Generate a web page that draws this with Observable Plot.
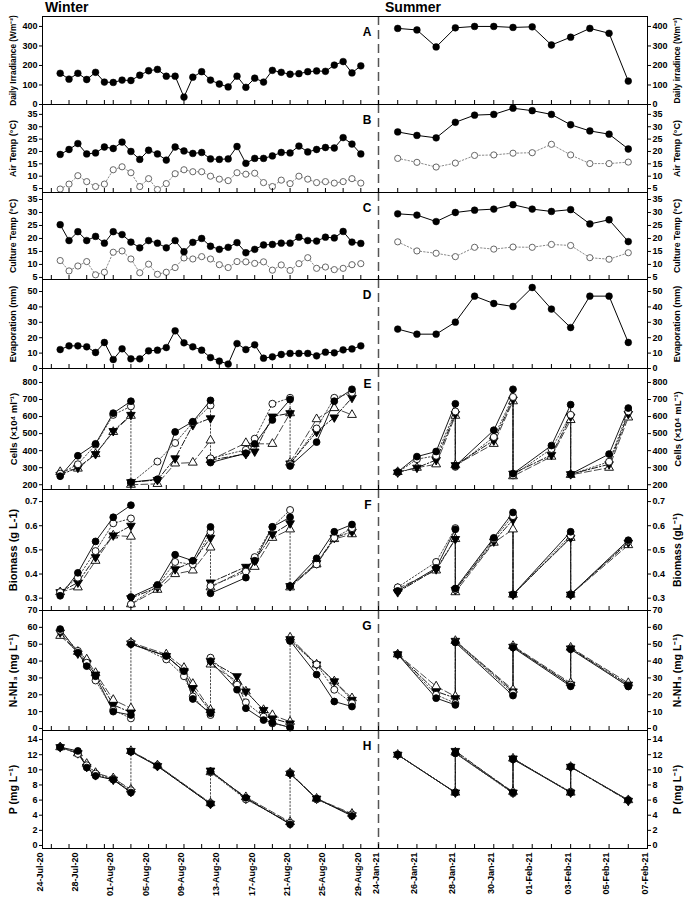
<!DOCTYPE html>
<html><head><meta charset="utf-8">
<script src="https://cdn.jsdelivr.net/npm/d3@7"></script>
<script src="https://cdn.jsdelivr.net/npm/@observablehq/plot@0.6"></script>
<style>
body{margin:0;background:#fff;font-family:"Liberation Sans",Arial,sans-serif;}
#wrap{position:relative;width:685px;height:898px;overflow:hidden;}
.panel{position:absolute;left:0;}
.panel svg{overflow:visible;}
.ttl{position:absolute;top:-1px;font-weight:bold;font-size:14px;font-family:"Liberation Sans",Arial,sans-serif;}
</style></head><body><div id="wrap"><div class="ttl" style="left:45px">Winter</div><div class="ttl" style="left:385px">Summer</div></div>
<script>
// ---------- DATA ----------
const winterDays = ["2020-07-26","2020-07-27","2020-07-28","2020-07-29","2020-07-30","2020-07-31","2020-08-01","2020-08-02","2020-08-03","2020-08-04","2020-08-05","2020-08-06","2020-08-07","2020-08-08","2020-08-09","2020-08-10","2020-08-11","2020-08-12","2020-08-13","2020-08-14","2020-08-15","2020-08-16","2020-08-17","2020-08-18","2020-08-19","2020-08-20","2020-08-21","2020-08-22","2020-08-23","2020-08-24","2020-08-25","2020-08-26","2020-08-27","2020-08-28","2020-08-29"];
const summerDays = ["2021-01-25","2021-01-26","2021-01-27","2021-01-28","2021-01-29","2021-01-30","2021-01-31","2021-02-01","2021-02-02","2021-02-03","2021-02-04","2021-02-05","2021-02-06"];

const irrW = [160,130,160,128,165,115,113,125,123,150,173,180,145,145,38,140,168,125,105,90,145,88,135,115,175,165,155,158,168,172,170,202,220,162,198];
const irrS = [390,382,295,393,400,400,395,398,305,345,390,365,120];

const airMaxW = [18.8,20.8,23.2,19,19.4,21.8,21.2,23.8,20,16.8,20.5,19,16.5,21.8,20.2,19.2,19.6,17,16.8,17,22,15.2,17.2,17.2,18.2,19.6,19.4,22.2,19.8,20.8,21.6,21.4,25.6,23,19];
const airMinW = [4.8,6.8,10.2,7.8,5.8,6.8,12.6,13.8,11.4,5.8,9,4.6,7,11,12.6,11.8,11.8,10,8.8,8.2,11.4,10.8,11.2,7.4,5.8,8.4,7,10,8.8,7.4,7.8,7.2,7.8,9,7.2];
const airMaxS = [27.9,26.5,25.5,31.8,34.7,35,37.5,36.5,35,30.8,28.3,27,21];
const airMinS = [17.2,15.6,13.7,15.3,18.4,18.6,19.3,19.5,22.9,18.6,15.1,15.1,15.7];

const culMaxW = [25.3,19.2,22.6,19.2,20.8,18.2,22.6,21.5,18.6,16.4,19.2,18.2,16.4,19.2,14.9,18.5,20,17,15.8,16.6,18.4,14.5,15.8,17.5,17.7,18.2,18.2,20.5,19.2,19,20.5,20.2,22.7,18.6,18.1];
const culMinW = [11.5,7.5,9.4,11.1,6,7,14.7,15.2,12.1,6.8,10.1,6.2,7,8.8,12.5,12.1,13,12.1,9.9,8.8,11.1,11,10.4,11,7.8,9.8,7.7,10.3,12.6,8.5,9,8,8.5,9.9,10.3];
const culMaxS = [29.5,29,26.5,30,30.9,31.3,33,31.3,30.4,31.1,25.6,27.2,18.8];
const culMinS = [18.7,15.2,14.3,13,16.6,15.9,16.7,16.6,17.7,17.3,12.6,12,14.5];

const evapW = [12.3,14.7,14.7,14.1,10.4,16.9,5.8,12.8,6.3,6.3,11.5,11.9,13.6,24.5,16.7,14.1,11.9,7.1,4.8,2.9,16.2,12.3,15.4,6.7,7.6,9.1,9.8,9.8,9.8,8.2,10.6,10.2,12.1,12.7,14.7];
const evapS = [25.6,22.3,22.3,30.1,47,42.2,40.3,52.6,38.6,26.6,47,47,16.9];

// Cells (x10^4 / mL): four cultures
const cellDaysW = ["2020-07-26","2020-07-28","2020-07-30","2020-08-01","2020-08-03","2020-08-03","2020-08-06","2020-08-08","2020-08-10","2020-08-12","2020-08-12","2020-08-16","2020-08-17","2020-08-19","2020-08-21","2020-08-21","2020-08-24","2020-08-26","2020-08-28"];
const cellW1 = [250,370,440,620,690,215,232,510,570,695,330,385,440,580,700,310,450,690,760];
const cellW2 = [265,320,435,610,660,210,336,445,565,665,355,405,470,675,710,320,530,710,740];
const cellW3 = [258,300,380,515,610,215,228,355,550,590,345,380,395,600,620,325,510,595,710];
const cellW4 = [275,295,380,510,605,200,205,325,330,460,345,445,440,440,620,330,585,650,610];
const cellDaysS = ["2021-01-25","2021-01-26","2021-01-27","2021-01-28","2021-01-28","2021-01-30","2021-01-31","2021-01-31","2021-02-02","2021-02-03","2021-02-03","2021-02-05","2021-02-06"];
const cellS1 = [275,365,395,675,310,520,760,265,430,670,262,380,650];
const cellS2 = [272,350,370,630,305,480,715,255,410,610,260,335,630];
const cellS3 = [272,300,345,615,315,460,700,265,375,600,262,320,615];
const cellS4 = [275,300,320,605,315,440,690,250,365,580,258,300,595];

// Biomass (g/L)
const bioDaysW = cellDaysW;
const bioW1 = [0.31,0.405,0.535,0.635,0.685,0.305,0.355,0.48,0.455,0.595,0.32,0.385,0.455,0.595,0.635,0.35,0.465,0.575,0.605];
const bioW2 = [0.325,0.385,0.495,0.61,0.63,0.275,0.35,0.45,0.44,0.575,0.35,0.41,0.47,0.595,0.665,0.35,0.44,0.55,0.59];
const bioW3 = [0.325,0.365,0.47,0.56,0.6,0.3,0.345,0.42,0.45,0.55,0.365,0.43,0.455,0.565,0.61,0.35,0.445,0.55,0.575];
const bioW4 = [0.325,0.345,0.455,0.56,0.555,0.275,0.335,0.4,0.415,0.51,0.345,0.42,0.43,0.55,0.585,0.345,0.44,0.545,0.565];
const bioDaysS = ["2021-01-25","2021-01-27","2021-01-28","2021-01-28","2021-01-30","2021-01-31","2021-01-31","2021-02-03","2021-02-03","2021-02-06"];
const bioS1 = [0.33,0.425,0.585,0.34,0.55,0.655,0.315,0.575,0.315,0.54];
const bioS2 = [0.345,0.45,0.59,0.335,0.545,0.64,0.315,0.56,0.315,0.535];
const bioS3 = [0.325,0.42,0.545,0.335,0.535,0.625,0.315,0.55,0.315,0.53];
const bioS4 = [0.34,0.415,0.545,0.325,0.53,0.585,0.315,0.55,0.315,0.52];

// N-NH3 (mg/L)
const nDaysW = ["2020-07-26","2020-07-28","2020-07-29","2020-07-30","2020-08-01","2020-08-03","2020-08-03","2020-08-07","2020-08-09","2020-08-10","2020-08-12","2020-08-12","2020-08-15","2020-08-16","2020-08-18","2020-08-19","2020-08-21","2020-08-21","2020-08-24","2020-08-26","2020-08-28"];
const nW1 = [59,45,37,31,10,8,50,43,34,17.5,9,40,23,12,5,3.5,0.5,52,32,16,13];
const nW2 = [58,46,39,28.5,11,6,51,41,31,19,8,42,26,15.5,7,3,1,52,38,23,15];
const nW3 = [57,44.5,39,32,14,9.5,50.5,43,34,24,10,40,31,22,11,6,3,53,38,28,17];
const nW4 = [55,45.5,41,33,17,12,51,44,36,26.5,11,38,28,22,11,8,4,54,38,28,18];
const nDaysS = ["2021-01-25","2021-01-27","2021-01-28","2021-01-28","2021-01-31","2021-01-31","2021-02-03","2021-02-03","2021-02-06"];
const nS1 = [44,18,14,51,19.5,48,25,47,25];
const nS2 = [44,20,15,51.5,21,48.5,26,47.5,25];
const nS3 = [44,22,18,52,22,48.5,26,47.5,26];
const nS4 = [44,25,19,52,23,49,27,48,27];

// P (mg/L)
const pDaysW = ["2020-07-26","2020-07-28","2020-07-29","2020-07-30","2020-08-01","2020-08-03","2020-08-03","2020-08-06","2020-08-12","2020-08-12","2020-08-16","2020-08-21","2020-08-21","2020-08-24","2020-08-28"];
const pW1 = [13,12.5,10.3,9.2,8.7,7,12.4,10.5,5.5,9.8,6.3,2.8,9.5,6.2,3.9];
const pW2 = [13,12.1,10.6,9.5,8.8,7.3,12.4,10.6,5.6,9.7,6.1,3,9.6,6.1,4.1];
const pW3 = [13,12.2,10.4,9.3,8.7,7.1,12.5,10.5,5.5,9.9,6.2,2.9,9.5,6.2,4.0];
const pW4 = [13,12.2,10.8,9.6,8.9,7.4,12.5,10.6,5.6,9.7,6.4,3.1,9.6,6.2,4.2];
const pDaysS = ["2021-01-25","2021-01-28","2021-01-28","2021-01-31","2021-01-31","2021-02-03","2021-02-03","2021-02-06"];
const pS1 = [12,7,12.2,7,11.4,7,10.4,6];
const pS2 = [12,7,12.2,6.9,11.4,7.1,10.4,6];
const pS3 = [12,7,12.5,7,11.5,7,10.4,5.9];
const pS4 = [12,7,12.3,7.1,11.5,7,10.4,6];

const xLabelDays = ["2020-07-24","2020-07-28","2020-08-01","2020-08-05","2020-08-09","2020-08-13","2020-08-17","2020-08-21","2020-08-25","2020-08-29","2021-01-24","2021-01-26","2021-01-28","2021-01-30","2021-02-01","2021-02-03","2021-02-05","2021-02-07"];

// ---------- SCALES / HELPERS ----------
const parse = d3.utcParse("%Y-%m-%d");
const W0 = parse("2020-07-24"), W1 = parse("2020-08-31"), S0 = parse("2021-01-24"), S1 = parse("2021-02-07");
const xScale = {type: "utc", domain: [W0, W1, S0, S1], range: [42, 378, 378, 647], axis: null};
const tickDays = [...d3.utcDay.every(2).range(W0, d3.utcDay.offset(W1, 1)), ...d3.utcDay.range(d3.utcDay.offset(S0, 1), d3.utcDay.offset(S1, 1))];

const sqrt3 = Math.sqrt(3);
const triDown = {draw(ctx, size) { const y = -Math.sqrt(size / (sqrt3 * 3)); ctx.moveTo(0, -y * 2); ctx.lineTo(-sqrt3 * y, y); ctx.lineTo(sqrt3 * y, y); ctx.closePath(); }};

const rows = (days, vals) => days.map((d, i) => ({date: parse(d), v: vals[i]}));

function dailyMarks(days, max, min) {
  const m = [];
  if (min) {
    const r = rows(days, min);
    m.push(Plot.line(r, {x: "date", y: "v", stroke: "#8a8a8a", strokeWidth: 1, strokeDasharray: "1.5,2"}));
    m.push(Plot.dot(r, {x: "date", y: "v", r: 3.1, fill: "white", stroke: "#666", strokeWidth: 1}));
  }
  const r = rows(days, max);
  m.push(Plot.line(r, {x: "date", y: "v", stroke: "black", strokeWidth: 1}));
  m.push(Plot.dot(r, {x: "date", y: "v", r: 3.4, fill: "black", stroke: "black", strokeWidth: 0.5}));
  return m;
}

const seriesStyles = [
  {fill: "black", symbol: "circle", r: 3.4, dash: null, stroke: "black"},
  {fill: "white", symbol: "circle", r: 3.5, dash: "1.5,2", stroke: "#333"},
  {fill: "black", symbol: triDown, r: 3.2, dash: "6,2,1.5,2", stroke: "black"},
  {fill: "white", symbol: "triangle", r: 3.3, dash: "7,3", stroke: "#333"}
];
// winter: only the dotted series draws the vertical "re-inoculation" drop
function cultureMarks(days, seriesList, connectAll) {
  const lines = [], dots = [];
  seriesList.forEach((vals, k) => {
    const s = seriesStyles[k];
    let seg = 0;
    const r = rows(days, vals).map((d, i) => {
      if (i > 0 && days[i] === days[i - 1] && !(connectAll || k === 1)) seg++;
      return {...d, seg};
    });
    lines.push(Plot.line(r, {x: "date", y: "v", z: "seg", stroke: s.stroke, strokeWidth: 0.9, strokeDasharray: s.dash}));
    dots.push(Plot.dot(r, {x: "date", y: "v", r: s.r, symbol: s.symbol, fill: s.fill, stroke: "black", strokeWidth: 0.9}));
  });
  return [...lines, ...dots.reverse()];
}

const wrap = document.getElementById("wrap");
function panel({top, bottom, yDomain, yTicks, yFmt, leftLabel, rightLabel, letter, marks, extraBottom = 0, leftSize = 9, rightSize = 9}) {
  const h = bottom - top;
  const fmt = yFmt || (d => d);
  const extra = [];
  if (extraBottom) {
    const f = d3.utcFormat("%d-%b-%y");
    extra.push(Plot.text(xLabelDays.map(parse), {x: d => d, frameAnchor: "bottom", rotate: -90, textAnchor: "end", dy: 4, text: d => f(d), fontSize: 9, fontWeight: "bold"}));
  }
  const svg = Plot.plot({
    width: 685, height: h + extraBottom,
    marginLeft: 42, marginRight: 38, marginTop: 0, marginBottom: extraBottom,
    x: xScale, y: {domain: yDomain, axis: null},
    style: {background: "transparent", overflow: "visible", fontFamily: "'Liberation Sans', Arial, sans-serif", fontSize: "9px", fontWeight: "bold", color: "black"},
    marks: [
      ...marks,
      Plot.ruleX([W1], {stroke: "#555", strokeWidth: 1.5, strokeDasharray: "9,5"}),
      Plot.ruleX(tickDays, {x: d => d, insetTop: h - 4, stroke: "black", strokeWidth: 1}),
      Plot.frame({stroke: "black", strokeWidth: 1}),
      Plot.axisY({anchor: "left", ticks: yTicks, tickFormat: fmt, tickSize: 3, tickPadding: 2, label: null, fontSize: 9, fontWeight: "bold"}),
      Plot.axisY({anchor: "right", ticks: yTicks, tickFormat: fmt, tickSize: 3, tickPadding: 2, label: null, fontSize: 9, fontWeight: "bold"}),
      Plot.text([leftLabel], {frameAnchor: "left", dx: -29, rotate: -90, textAnchor: "middle", text: d => d, fontSize: leftSize, fontWeight: "bold"}),
      Plot.text([rightLabel], {frameAnchor: "right", dx: 30, rotate: -90, textAnchor: "middle", text: d => d, fontSize: rightSize, fontWeight: "bold"}),
      Plot.text([{x: W1, t: letter}], {x: "x", text: "t", frameAnchor: "top", dy: 11, dx: -7, textAnchor: "end", fontSize: 12, fontWeight: "bold"}),
      ...extra
    ]
  });
  const div = document.createElement("div");
  div.className = "panel";
  div.style.top = top + "px";
  div.appendChild(svg);
  wrap.appendChild(div);
}

// ---------- PANELS ----------
panel({top: 16, bottom: 104, yDomain: [0, 451], yTicks: [0, 100, 200, 300, 400],
  leftLabel: "Daily Irradiance (Wm⁻²)", rightLabel: "Daily irradince (Wm⁻²)", letter: "A", leftSize: 8.3, rightSize: 8.3,
  marks: [...dailyMarks(winterDays, irrW), ...dailyMarks(summerDays, irrS)]});
panel({top: 104, bottom: 192, yDomain: [3.4, 39], yTicks: [5, 10, 15, 20, 25, 30, 35],
  leftLabel: "Air Temp (°C)", rightLabel: "Air Temp (°C)", letter: "B",
  marks: [...dailyMarks(winterDays, airMaxW, airMinW), ...dailyMarks(summerDays, airMaxS, airMinS)]});
panel({top: 192, bottom: 279, yDomain: [4.2, 37.7], yTicks: [5, 10, 15, 20, 25, 30, 35],
  leftLabel: "Culture Temp (°C)", rightLabel: "Culture Temp (°C)", letter: "C", leftSize: 8.8, rightSize: 8.8,
  marks: [...dailyMarks(winterDays, culMaxW, culMinW), ...dailyMarks(summerDays, culMaxS, culMinS)]});
panel({top: 279, bottom: 368, yDomain: [0, 57.8], yTicks: [0, 10, 20, 30, 40, 50],
  leftLabel: "Evaporation (mm)", rightLabel: "Evaporation (mm)", letter: "D",
  marks: [...dailyMarks(winterDays, evapW), ...dailyMarks(summerDays, evapS)]});
panel({top: 368, bottom: 489, yDomain: [172, 882], yTicks: [200, 300, 400, 500, 600, 700, 800],
  leftLabel: "Cells (×10⁴ ml⁻¹)", rightLabel: "Cells (×10⁴ mL⁻¹)", letter: "E", leftSize: 9.5, rightSize: 9.5,
  marks: [...cultureMarks(cellDaysW, [cellW1, cellW2, cellW3, cellW4], false), ...cultureMarks(cellDaysS, [cellS1, cellS2, cellS3, cellS4], true)]});
panel({top: 489, bottom: 610, yDomain: [0.249, 0.75], yTicks: [0.3, 0.4, 0.5, 0.6, 0.7], yFmt: d3.format(".1f"),
  leftLabel: "Biomass (g L-1)", rightLabel: "Biomass (gL⁻¹)", letter: "F", leftSize: 11, rightSize: 10.5,
  marks: [...cultureMarks(bioDaysW, [bioW1, bioW2, bioW3, bioW4], false), ...cultureMarks(bioDaysS, [bioS1, bioS2, bioS3, bioS4], true)]});
panel({top: 610, bottom: 730, yDomain: [-1.2, 70], yTicks: [0, 10, 20, 30, 40, 50, 60, 70],
  leftLabel: "N-NH₃ (mg L⁻¹)", rightLabel: "N-NH₃ (mg L⁻¹)", letter: "G", leftSize: 10.5, rightSize: 10.5,
  marks: [...cultureMarks(nDaysW, [nW1, nW2, nW3, nW4], false), ...cultureMarks(nDaysS, [nS1, nS2, nS3, nS4], true)]});
panel({top: 730, bottom: 848, yDomain: [-0.4, 15.2], yTicks: [0, 2, 4, 6, 8, 10, 12, 14], extraBottom: 50,
  leftLabel: "P (mg L⁻¹)", rightLabel: "P (mg L⁻¹)", letter: "H", leftSize: 10.5, rightSize: 10.5,
  marks: [...cultureMarks(pDaysW, [pW1, pW2, pW3, pW4], false), ...cultureMarks(pDaysS, [pS1, pS2, pS3, pS4], true)]});
</script></body></html>
